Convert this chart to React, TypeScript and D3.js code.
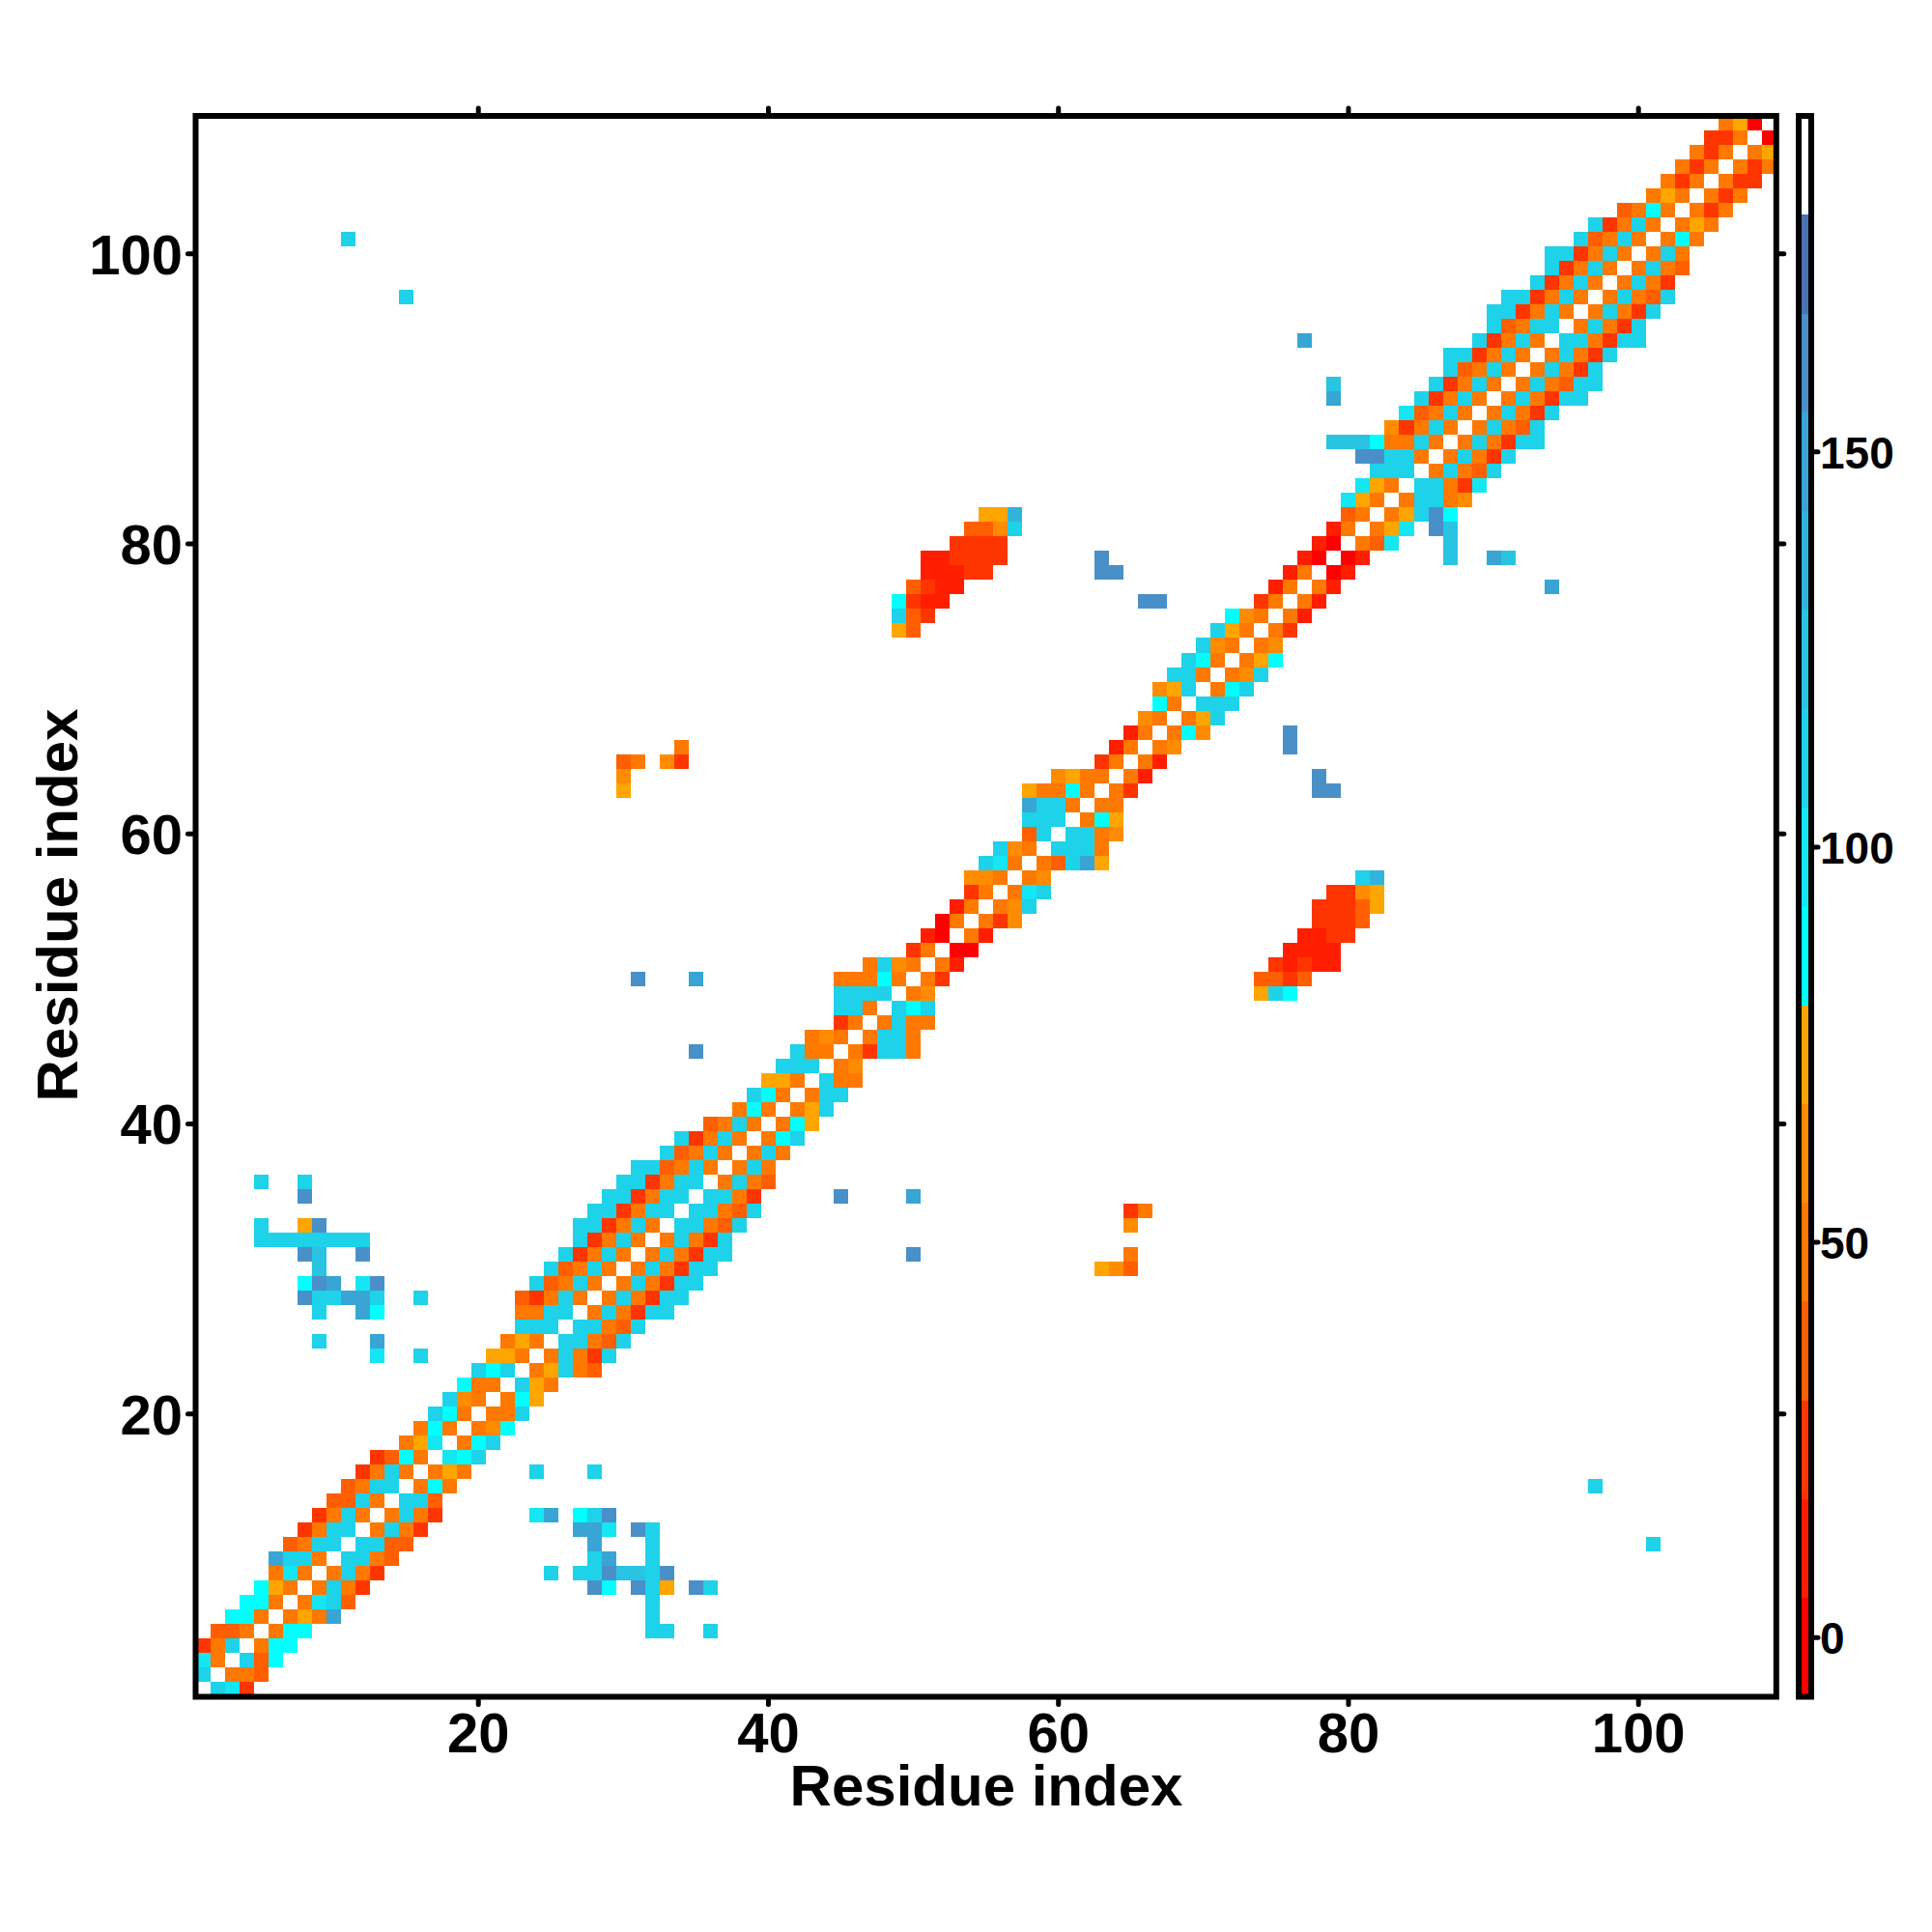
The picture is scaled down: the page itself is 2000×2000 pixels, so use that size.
import { scaleLinear, scaleThreshold, range } from "d3";

// values next to the diagonal: row n holds residue pairs (n+1, n), (n+2, n), ...
const bandRows: number[][] = [
  [110, 100, 25],
  [50, 50, 35],
  [110, 35, 85],
  [50, 85, 85],
  [50, 85, 85],
  [50, 75, 50, 150],
  [50, 100, 110, 35],
  [50, 110, 50, 25],
  [50, 110, 50, 25],
  [110, 110, 50, 35],
  [110, 110, 35, 35],
  [50, 110, 50, 25],
  [50, 110, 50, 25],
  [110, 110, 35],
  [50, 85, 50],
  [50, 75, 50],
  [100, 85, 110],
  [50, 85, 110],
  [50, 60, 85],
  [50, 50, 110],
  [50, 85, 75],
  [110, 75, 50],
  [50, 75, 110, 50, 35],
  [50, 110, 50, 25, 110],
  [110, 110, 50, 35, 110],
  [110, 110, 50, 35, 110],
  [50, 110, 50, 25, 110, 110],
  [50, 110, 50, 25, 110, 110],
  [50, 110, 50, 25, 110, 110],
  [50, 110, 50, 25, 110, 110],
  [50, 110, 50, 25, 110, 110],
  [50, 110, 50, 25, 110],
  [110, 110, 50, 35, 110],
  [110, 110, 50, 35, 110],
  [110, 110, 50, 25],
  [50, 110, 50, 35],
  [50, 110, 50],
  [50, 110, 50],
  [50, 85, 110],
  [50, 85, 75],
  [50, 75, 110],
  [50, 110, 110],
  [110, 50, 50],
  [50, 60],
  [50, 25, 110, 110, 50],
  [50, 110, 110, 50],
  [50, 110, 50, 50],
  [110, 85, 110],
  [50, 60],
  [50, 25],
  [50, 10],
  [0, 0],
  [50, 10],
  [50, 25, 60],
  [50, 60, 110],
  [50, 100, 110],
  [50, 60],
  [50, 35, 110, 150, 75],
  [110, 110, 110, 50],
  [110, 110, 50, 60],
  [50, 85, 75],
  [50, 50],
  [50, 25],
  [50, 10],
  [50, 10],
  [50, 60],
  [50, 85, 60],
  [50, 75, 110],
  [110, 110, 110],
  [50, 85, 110],
  [50, 60, 110],
  [50, 75, 85],
  [50, 60],
  [50, 25],
  [50, 10],
  [50, 10],
  [50, 10],
  [0, 10],
  [0, 10],
  [50, 35, 100],
  [50, 75, 100],
  [50, 75, 110, 160, 85],
  [50, 110, 110, 50, 60],
  [110, 110, 50, 25, 100],
  [50, 110, 50, 35, 110],
  [50, 110, 50, 25, 110],
  [50, 110, 50, 25, 110, 110],
  [50, 110, 50, 35, 110],
  [50, 110, 50, 25, 110],
  [50, 110, 50, 25, 110, 110],
  [50, 110, 50, 35, 110, 110],
  [50, 110, 50, 25, 110],
  [50, 110, 50, 25, 110],
  [110, 110, 50, 25, 110, 110],
  [50, 110, 50, 25, 110],
  [50, 110, 50, 25, 110],
  [50, 110, 50, 35, 110],
  [50, 110, 50, 25],
  [50, 110, 50, 35],
  [50, 110, 50],
  [50, 85, 50],
  [50, 75, 50],
  [50, 25, 50],
  [50, 25, 50],
  [50, 25, 25],
  [50, 25, 50],
  [50, 75],
  [0],
];

// pairs away from the diagonal: [residue a, residue b, value], drawn both ways
const farPairs: [number, number, number][] = [
  [24, 13, 100], [25, 13, 150], [27, 13, 85], [28, 13, 110], [29, 13, 160],
  [24, 16, 110], [28, 16, 110],
  [27, 12, 150], [28, 12, 150], [29, 12, 100], [31, 12, 160], [32, 12, 110],
  [28, 11, 150], [32, 11, 110],
  [28, 10, 110], [29, 10, 150], [32, 10, 110],
  [25, 9, 110], [27, 9, 110], [28, 9, 110], [29, 9, 160], [30, 9, 125], [31, 9, 125], [32, 9, 110], [33, 9, 160],
  [28, 8, 160], [29, 8, 85], [31, 8, 160], [32, 8, 110], [33, 8, 75], [35, 8, 160], [36, 8, 110],
  [32, 7, 110], [32, 6, 110], [32, 5, 110], [33, 5, 110], [36, 5, 110],
  [45, 35, 160], [50, 35, 150], [50, 31, 160],
  [101, 11, 110], [97, 15, 110],
  [65, 34, 25], [66, 34, 50], [65, 33, 60], [65, 31, 50], [63, 30, 75], [64, 30, 60], [65, 30, 35],
  [76, 66, 160], [76, 67, 160], [79, 63, 160], [78, 63, 160], [78, 64, 160],
  [94, 77, 150], [90, 79, 150], [91, 79, 125],
  [87, 79, 125], [87, 80, 125], [87, 81, 125], [86, 81, 160],
  [82, 55, 75], [82, 56, 75], [82, 57, 135],
  [81, 54, 35], [81, 55, 35], [81, 56, 60], [81, 57, 110],
  [80, 53, 25], [80, 54, 25], [80, 55, 25], [80, 56, 25],
  [79, 51, 10], [79, 52, 10], [79, 53, 25], [79, 54, 25], [79, 55, 25], [79, 56, 25],
  [78, 51, 10], [78, 52, 10], [78, 53, 10], [78, 54, 25], [78, 55, 25],
  [77, 50, 35], [77, 51, 25], [77, 52, 10], [77, 53, 10],
  [76, 49, 85], [76, 50, 25], [76, 51, 10], [76, 52, 10],
  [75, 49, 110], [75, 50, 35], [75, 51, 25],
  [74, 49, 75], [74, 50, 35],
];

const residueTicks = [20, 40, 60, 80, 100];
const barTicks = [0, 50, 100, 150];
const barBreaks = range(-7.5, 193, 12.5);
const axisTitle = "Residue index";

const palette = [
  "#ff0000", "#ff1e00", "#ff3500", "#ff5f00", "#ff7800", "#ff8c00", "#ffa500",
  "#00ffff", "#14e6f4", "#1ed2e9", "#28c4e2", "#30b4dc", "#38a5d5", "#4a90c8", "#4a72b2",
  "#ffffff",
];

const FONT = "'Liberation Sans', Arial, sans-serif";

export default function App() {
  const x = scaleLinear().domain([0.5, 109.5]).range([202.5, 1838.8]);
  const y = scaleLinear().domain([0.5, 109.5]).range([1756.5, 120]);
  const barY = scaleLinear().domain([-7.5, 192.5]).range([1756.5, 120]);
  const color = scaleThreshold<number, string>().domain(barBreaks.slice(1, -1)).range(palette);

  const cells: { a: number; b: number; v: number }[] = [];
  bandRows.forEach((row, i) => {
    row.forEach((v, k) => {
      cells.push({ a: i + k + 2, b: i + 1, v });
    });
  });
  farPairs.forEach(([a, b, v]) => cells.push({ a, b, v }));
  const mirrored = cells.flatMap((c) => [c, { a: c.b, b: c.a, v: c.v }]);

  const cw = x(1) - x(0);
  const ch = y(0) - y(1);
  const [left, right] = x.range();
  const [bottom, top] = y.range();

  return (
    <svg
      width={2000}
      height={2000}
      viewBox="0 0 2000 2000"
      style={{ position: "absolute", left: 0, top: 0, background: "#fff" }}
      fontFamily={FONT}
      fontWeight="bold"
    >
      {/* Matrix */}
      <g shapeRendering="crispEdges">
        {mirrored.map((c, i) => (
          <rect
            key={i}
            x={x(c.a - 0.5)}
            y={y(c.b + 0.5)}
            width={cw}
            height={ch}
            fill={color(c.v)}
          />
        ))}
      </g>

      {/* Ticks on all four sides */}
      <g stroke="#000" strokeWidth={5} strokeLinecap="round">
        {residueTicks.map((t) => (
          <g key={t}>
            <line x1={x(t)} x2={x(t)} y1={bottom} y2={bottom + 8} />
            <line x1={x(t)} x2={x(t)} y1={top} y2={top - 8} />
            <line x1={left} x2={left - 8} y1={y(t)} y2={y(t)} />
            <line x1={right} x2={right + 8} y1={y(t)} y2={y(t)} />
          </g>
        ))}
      </g>
      <rect
        x={left}
        y={top}
        width={right - left}
        height={bottom - top}
        fill="none"
        stroke="#000"
        strokeWidth={6}
      />

      {/* Tick labels */}
      <g fontSize={58} fill="#000">
        {residueTicks.map((t) => (
          <text key={t} x={x(t)} y={1814} textAnchor="middle">
            {t}
          </text>
        ))}
        {residueTicks.map((t) => (
          <text key={t} x={189} y={y(t) + 21} textAnchor="end">
            {t}
          </text>
        ))}
      </g>

      {/* Axis titles */}
      <g fontSize={60} fill="#000" textAnchor="middle">
        <text x={1021} y={1869}>
          {axisTitle}
        </text>
        <text transform="translate(80,937) rotate(-90)">{axisTitle}</text>
      </g>

      {/* Colour bar */}
      <g shapeRendering="crispEdges">
        {palette.map((fill, i) => (
          <rect
            key={i}
            x={1862}
            y={barY(barBreaks[i + 1])}
            width={13}
            height={barY(barBreaks[i]) - barY(barBreaks[i + 1])}
            fill={fill}
          />
        ))}
      </g>
      <rect x={1862} y={120} width={13} height={1636.5} fill="none" stroke="#000" strokeWidth={6} />
      <g stroke="#000" strokeWidth={5} strokeLinecap="round">
        {barTicks.map((t) => (
          <line key={t} x1={1875} x2={1882} y1={barY(t)} y2={barY(t)} />
        ))}
      </g>
      <g fontSize={46} fill="#000">
        {barTicks.map((t) => (
          <text key={t} x={1884} y={barY(t) + 17}>
            {t}
          </text>
        ))}
      </g>
    </svg>
  );
}
